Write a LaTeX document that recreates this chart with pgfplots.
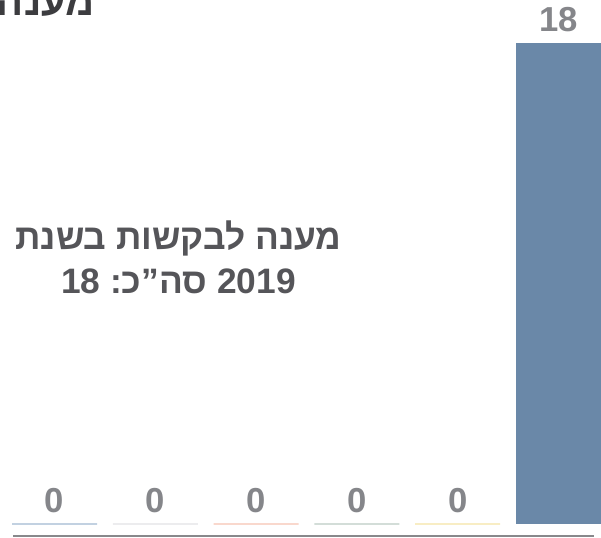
\documentclass[border=0pt]{standalone}
\usepackage{fontspec}
\setmainfont{Liberation Sans}
\newfontfamily\hebfont[Script=Hebrew]{Liberation Sans}
\TeXXeTstate=1
\usepackage{pgfplots}
\pgfplotsset{compat=1.18}
\definecolor{barblue}{HTML}{6A88A8}
\definecolor{zA}{HTML}{C2D1E1}
\definecolor{zB}{HTML}{ECECEE}
\definecolor{zC}{HTML}{F9D8CD}
\definecolor{zD}{HTML}{D3DDD8}
\definecolor{zE}{HTML}{F8EDC4}
\definecolor{valgrey}{HTML}{85868A}
\definecolor{txtgrey}{HTML}{555559}
\definecolor{titlegrey}{HTML}{3C3C3F}
\definecolor{axisgrey}{HTML}{88888B}
\pgfplotsset{
  zerobar/.style={fill=none, draw=#1, line width=1.1pt, bar shift=0pt}
}

\begin{document}
\begin{tikzpicture}
\begin{axis}[at={(0,0)}, anchor=south west,
  width=450.75pt, height=402.75pt, scale only axis,
  xmin=-0.5412, xmax=5.4220, ymin=-0.4865, ymax=19.61,
  axis lines=none, ybar, bar width=0.844, clip=false,
  /pgf/number format/assume math mode=true,
  nodes near coords={\textbf{\pgfmathprintnumber{\pgfplotspointmeta}}},
  every node near coord/.append style={font=\bfseries\fontsize{26}{30}\selectfont,
    text=valgrey, anchor=base, yshift=8.5pt, inner sep=0pt}]
  \addplot[zerobar=zA] coordinates {(0,0)};
  \addplot[zerobar=zB] coordinates {(1,0)};
  \addplot[zerobar=zC] coordinates {(2,0)};
  \addplot[zerobar=zD] coordinates {(3,0)};
  \addplot[zerobar=zE] coordinates {(4,0)};
  \addplot[fill=barblue, draw=none, bar shift=0pt] coordinates {(5,18)};
  \draw[axisgrey, line width=1.5pt] (axis cs:-0.412,-0.438) -- (axis cs:5.348,-0.438);
  \node[align=center, text=txtgrey, font=\hebfont\bfseries\fontsize{26.5}{33}\selectfont]
    at (axis description cs:0.297,0.521)
    {\beginR מענה לבקשות בשנת\endR\\
     \beginR\beginL2019\endL\ סה”כ:\ \beginL18\endL\endR};
  \node[anchor=base east, text=titlegrey, inner sep=0pt,
    font=\hebfont\bfseries\fontsize{30}{34}\selectfont]
    at (axis description cs:0.158,0.972) {\beginR מענה לבקשות בשנת 2019\endR};
\end{axis}
\pgfresetboundingbox
\useasboundingbox (0,0) rectangle (450.75pt,402.75pt);
\end{tikzpicture}
\end{document}
